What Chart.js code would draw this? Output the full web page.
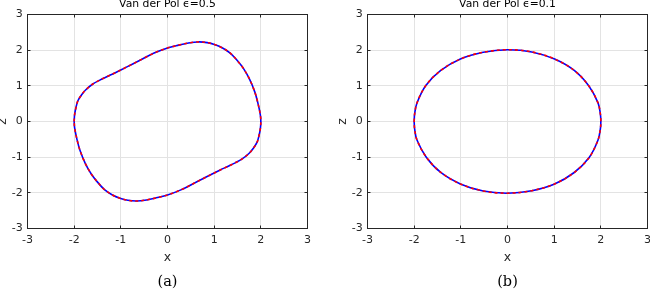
<!DOCTYPE html>
<html lang="en">
<head>
  <meta charset="UTF-8">
  <title>Van der Pol limit cycles</title>
  <script src="https://cdn.jsdelivr.net/npm/chart.js"></script>
  <style>
    body, html {
      margin: 0;
      padding: 0;
      background: #fff;
      overflow: hidden;
    }
    .panel {
      position: absolute;
      top: 0;
      width: 325px;
      height: 293px;
    }
    #panelA { left: 0; }
    #panelB { left: 325px; }
  </style>
</head>
<body>

  <div class="panel" id="panelA"><canvas id="chartA" width="325" height="293"></canvas></div>
  <div class="panel" id="panelB"><canvas id="chartB" width="325" height="293"></canvas></div>

  <script>
    // limit cycle, eps = 0.5 (clockwise from the left)
    const cycle05X = [-2.00, -1.99, -1.96, -1.92, -1.84, -1.75, -1.60, -1.45, -1.29, -1.13, -0.87, -0.60, -0.30,
      0.00, 0.24, 0.45, 0.66, 0.85, 1.02, 1.18, 1.35, 1.50, 1.63, 1.76, 1.87, 1.94, 1.99, 2.00,
      1.99, 1.96, 1.92, 1.84, 1.75, 1.60, 1.45, 1.29, 1.13, 0.87, 0.60, 0.30,
      0.00, -0.24, -0.45, -0.66, -0.85, -1.02, -1.18, -1.35, -1.50, -1.63, -1.76, -1.87, -1.94, -1.99, -2.00];
    const cycle05Z = [0.00, 0.20, 0.40, 0.58, 0.75, 0.89, 1.05, 1.16, 1.26, 1.36, 1.53, 1.71, 1.91,
      2.06, 2.14, 2.20, 2.23, 2.21, 2.15, 2.06, 1.91, 1.70, 1.48, 1.18, 0.83, 0.50, 0.18, 0.00,
      -0.20, -0.40, -0.58, -0.75, -0.89, -1.05, -1.16, -1.26, -1.36, -1.53, -1.71, -1.91,
      -2.06, -2.14, -2.20, -2.23, -2.21, -2.15, -2.06, -1.91, -1.70, -1.48, -1.18, -0.83, -0.50, -0.18, 0.00];

    // limit cycle, eps = 0.1
    const cycle01X = [-2.00, -1.99, -1.94, -1.75, -1.43, -1.01, -0.52, 0.00, 0.52, 1.01, 1.43, 1.74, 1.94, 1.99, 2.00,
      1.99, 1.94, 1.75, 1.43, 1.01, 0.52, 0.00, -0.52, -1.01, -1.43, -1.74, -1.94, -1.99, -2.00];
    const cycle01Z = [0.00, 0.21, 0.52, 1.01, 1.43, 1.75, 1.94, 2.01, 1.95, 1.75, 1.43, 1.00, 0.52, 0.21, 0.00,
      -0.21, -0.52, -1.01, -1.43, -1.75, -1.94, -2.01, -1.95, -1.75, -1.43, -1.00, -0.52, -0.21, 0.00];

    const axisTicks = [-3, -2, -1, 0, 1, 2, 3];
    const axisTickLabels = ['-3', '-2', '-1', '0', '1', '2', '3'];

    const sans = "'DejaVu Sans', 'Liberation Sans', sans-serif";
    const axisColor = '#262626';

    function toPoints(xs, zs) {
      return xs.map((x, i) => ({ x: x, y: zs[i] }));
    }

    // box round the axes plus inward tick marks, like matlab draws them
    const boxPlugin = {
      id: 'axesBox',
      afterDraw(chart) {
        const { ctx, chartArea: a, scales } = chart;
        const L = Math.round(a.left - 0.5) + 0.5, R = Math.round(a.right - 0.5) + 0.5;
        const T = Math.round(a.top - 0.5) + 0.5, B = Math.round(a.bottom - 0.5) + 0.5;
        ctx.save();
        ctx.strokeStyle = axisColor;
        ctx.lineWidth = 1;
        ctx.strokeRect(L, T, R - L, B - T);
        ctx.beginPath();
        axisTicks.forEach(v => {
          const px = Math.round(scales.x.getPixelForValue(v) - 0.5) + 0.5;
          const py = Math.round(scales.y.getPixelForValue(v) - 0.5) + 0.5;
          ctx.moveTo(px, B); ctx.lineTo(px, B - 3);
          ctx.moveTo(px, T); ctx.lineTo(px, T + 3);
          ctx.moveTo(L, py); ctx.lineTo(L + 3, py);
          ctx.moveTo(R, py); ctx.lineTo(R - 3, py);
        });
        ctx.stroke();
        ctx.restore();
      }
    };

    function makeChart(id, title, caption, xs, zs, padLeft, padRight) {
      const pts = toPoints(xs, zs);
      return new Chart(document.getElementById(id), {
        type: 'scatter',
        data: {
          datasets: [
            {
              data: pts,
              showLine: true,
              borderColor: '#ff0000',
              borderWidth: 1.6,
              borderDash: [3, 3],
              pointRadius: 0,
              tension: 0.34
            },
            {
              data: pts,
              showLine: true,
              borderColor: '#0000ff',
              borderWidth: 1.6,
              pointRadius: 0,
              tension: 0.34
            }
          ]
        },
        options: {
          responsive: false,
          animation: false,
          layout: { padding: { left: padLeft, right: padRight, top: 0, bottom: 0 } },
          scales: {
            x: {
              type: 'linear',
              min: -3,
              max: 3,
              afterBuildTicks: s => { s.ticks = axisTicks.map(v => ({ value: v })); },
              afterFit: s => { s.height = 45.4; s.paddingLeft = 0; s.paddingRight = 0; },
              ticks: {
                autoSkip: false,
                maxRotation: 0,
                padding: 5,
                color: axisColor,
                font: { family: sans, size: 11 },
                callback: (v, i) => axisTickLabels[i]
              },
              grid: { color: '#e3e3e3', drawTicks: false },
              border: { display: false },
              title: {
                display: true,
                text: 'x',
                color: axisColor,
                font: { family: sans, size: 12.5 },
                padding: { top: 0, bottom: 8.4 }
              }
            },
            y: {
              type: 'linear',
              min: -3,
              max: 3,
              afterBuildTicks: s => { s.ticks = axisTicks.map(v => ({ value: v })); },
              afterFit: s => { s.width = 27.5; s.paddingTop = 0; s.paddingBottom = 0; },
              ticks: {
                autoSkip: false,
                padding: 4.7,
                color: axisColor,
                font: { family: sans, size: 11 },
                callback: (v, i) => axisTickLabels[i]
              },
              grid: { color: '#e3e3e3', drawTicks: false },
              border: { display: false },
              title: {
                display: true,
                text: 'z',
                color: axisColor,
                font: { family: sans, size: 12.5 },
                padding: { top: -4.5, bottom: 0 }
              }
            }
          },
          plugins: {
            legend: { display: false },
            tooltip: { enabled: false },
            title: {
              display: true,
              text: title,
              fullSize: false,
              color: '#000',
              font: { family: sans, size: 10.8, weight: 'normal' },
              padding: { top: -2.5, bottom: 4 }
            },
            subtitle: {
              display: true,
              text: caption,
              position: 'bottom',
              fullSize: false,
              color: '#000',
              font: { family: "'DejaVu Serif', 'Liberation Serif', serif", size: 14.5, weight: 'normal' },
              padding: { top: 0, bottom: 1.7 }
            }
          }
        },
        plugins: [boxPlugin]
      });
    }

    makeChart('chartA', 'Van der Pol \u03f5=0.5', '(a)', cycle05X, cycle05Z, 0, 17.5);
    makeChart('chartB', 'Van der Pol \u03f5=0.1', '(b)', cycle01X, cycle01Z, 15, 2.5);
  </script>

</body>
</html>
